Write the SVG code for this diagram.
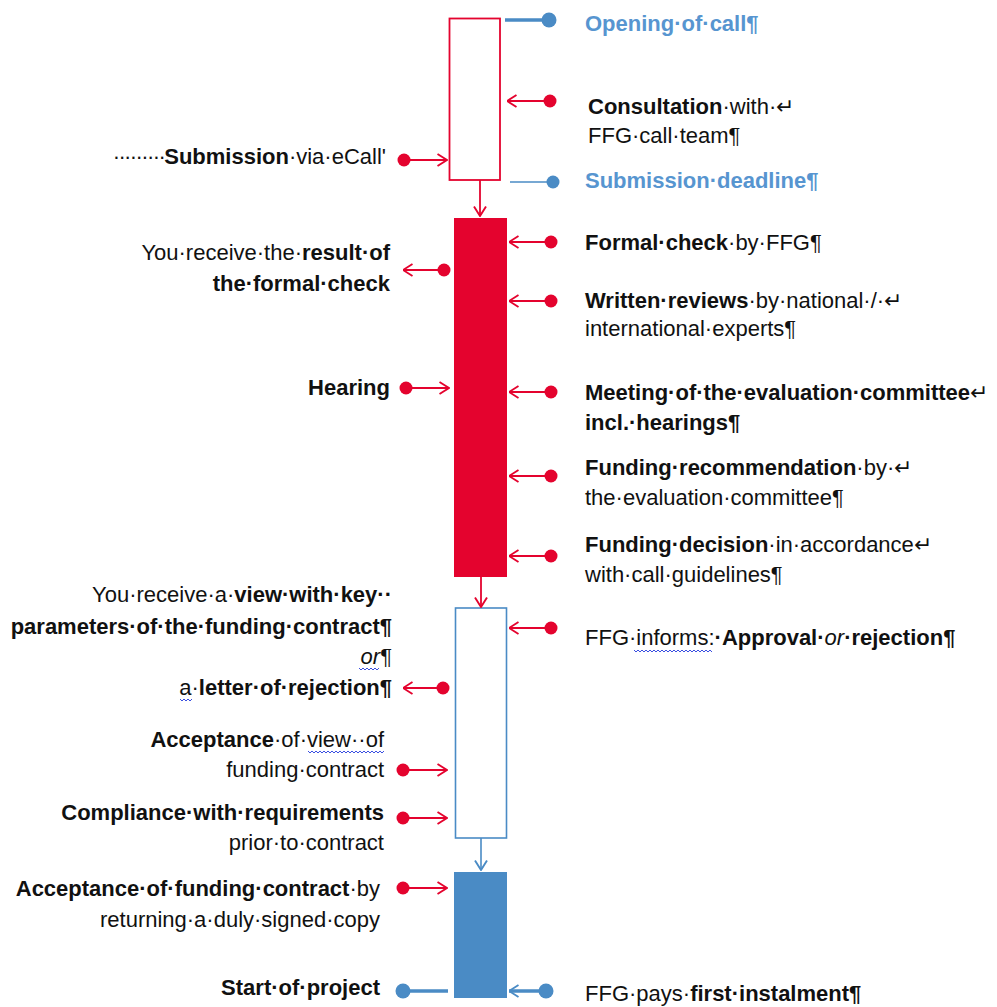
<svg xmlns="http://www.w3.org/2000/svg" width="997" height="1007" viewBox="0 0 997 1007">
<style>
text{font-family:"Liberation Sans",Arial,sans-serif;font-size:22px;fill:#111}
.b{font-weight:bold}
.i{font-style:italic}
.blue{fill:#5795D0;font-weight:bold}
.end{text-anchor:end}
.rl{stroke:#E4032E;stroke-width:1.8;fill:none}
.bl{stroke:#4A8BC5;fill:none}
.rd{fill:#E4032E}
.bd{fill:#4A8BC5}
.wv{stroke:#3A4FE0;stroke-width:1;fill:none}
</style>
<defs>
<marker id="ar" viewBox="0 0 11 14" refX="10.5" refY="7" markerWidth="11" markerHeight="14" markerUnits="userSpaceOnUse" orient="auto">
<path d="M1,1 L10.5,7 L1,13" fill="none" stroke="#E4032E" stroke-width="1.9"/>
</marker>
<marker id="ab" viewBox="0 0 11 14" refX="10.5" refY="7" markerWidth="11" markerHeight="14" markerUnits="userSpaceOnUse" orient="auto">
<path d="M1,1 L10.5,7 L1,13" fill="none" stroke="#4A8BC5" stroke-width="1.9"/>
</marker>
</defs>
<rect width="997" height="1007" fill="#fff"/>

<g id="phase-call">
<rect x="449.5" y="18.5" width="50.5" height="161.5" fill="#fff" stroke="#E4032E" stroke-width="1.8"/>
</g>
<g id="phase-evaluation">
<rect x="454" y="218" width="53" height="359" fill="#E4032E"/>
</g>
<g id="phase-decision">
<rect x="455.5" y="608" width="51" height="230" fill="#fff" stroke="#4A8BC5" stroke-width="1.6"/>
</g>
<g id="phase-project">
<rect x="454" y="872" width="53" height="126" fill="#4A8BC5"/>
</g>

<g id="connectors">
<line x1="480" y1="180" x2="480" y2="216" class="rl" marker-end="url(#ar)"/>
<line x1="481" y1="577" x2="481" y2="607" class="rl" marker-end="url(#ar)"/>
<line x1="481" y1="838" x2="481" y2="870" class="bl" stroke-width="1.6" marker-end="url(#ab)"/>

<line x1="505" y1="20" x2="549" y2="20" class="bl" stroke-width="3.5"/><circle cx="549" cy="20" r="7.5" class="bd"/>
<line x1="550" y1="101" x2="507" y2="101" class="rl" marker-end="url(#ar)"/><circle cx="550" cy="101" r="6.5" class="rd"/>
<line x1="510" y1="182" x2="553" y2="182" class="bl" stroke-width="1.6"/><circle cx="553" cy="182" r="6.5" class="bd"/>
<line x1="551" y1="242" x2="509" y2="242" class="rl" marker-end="url(#ar)"/><circle cx="551" cy="242" r="6.5" class="rd"/>
<line x1="551" y1="301" x2="509" y2="301" class="rl" marker-end="url(#ar)"/><circle cx="551" cy="301" r="6.5" class="rd"/>
<line x1="551" y1="392" x2="509" y2="392" class="rl" marker-end="url(#ar)"/><circle cx="551" cy="392" r="6.5" class="rd"/>
<line x1="551" y1="476" x2="509" y2="476" class="rl" marker-end="url(#ar)"/><circle cx="551" cy="476" r="6.5" class="rd"/>
<line x1="551" y1="556" x2="509" y2="556" class="rl" marker-end="url(#ar)"/><circle cx="551" cy="556" r="6.5" class="rd"/>
<line x1="551" y1="628" x2="509" y2="628" class="rl" marker-end="url(#ar)"/><circle cx="551" cy="628" r="6.5" class="rd"/>
<line x1="546" y1="991" x2="509" y2="991" class="bl" stroke-width="3.5" marker-end="url(#ab)"/><circle cx="546" cy="991" r="7.5" class="bd"/>

<line x1="404" y1="160" x2="447" y2="160" class="rl" marker-end="url(#ar)"/><circle cx="404" cy="160" r="6.5" class="rd"/>
<line x1="444" y1="270" x2="403" y2="270" class="rl" marker-end="url(#ar)"/><circle cx="444" cy="270" r="6.5" class="rd"/>
<line x1="406" y1="388" x2="449" y2="388" class="rl" marker-end="url(#ar)"/><circle cx="406" cy="388" r="6.5" class="rd"/>
<line x1="443" y1="688" x2="403" y2="688" class="rl" marker-end="url(#ar)"/><circle cx="443" cy="688" r="6.5" class="rd"/>
<line x1="403" y1="770" x2="447" y2="770" class="rl" marker-end="url(#ar)"/><circle cx="403" cy="770" r="6.5" class="rd"/>
<line x1="403" y1="818" x2="447" y2="818" class="rl" marker-end="url(#ar)"/><circle cx="403" cy="818" r="6.5" class="rd"/>
<line x1="403" y1="888" x2="447" y2="888" class="rl" marker-end="url(#ar)"/><circle cx="403" cy="888" r="6.5" class="rd"/>
<line x1="403" y1="991" x2="448" y2="991" class="bl" stroke-width="3.5"/><circle cx="403" cy="991" r="7.5" class="bd"/>
</g>

<g id="label-opening"><text x="585" y="31" class="blue">Opening·of·call¶</text></g>
<g id="label-consultation">
<text x="588" y="114"><tspan class="b">Consultation</tspan>·with·↵</text>
<text x="588" y="143">FFG·call·team¶</text>
</g>
<g id="label-deadline"><text x="585" y="188" class="blue">Submission·deadline¶</text></g>
<g id="label-formal"><text x="585" y="250"><tspan class="b">Formal·check</tspan>·by·FFG¶</text></g>
<g id="label-reviews">
<text x="585" y="308"><tspan class="b">Written·reviews</tspan>·by·national·/·↵</text>
<text x="585" y="336">international·experts¶</text>
</g>
<g id="label-meeting">
<text x="585" y="400"><tspan class="b">Meeting·of·the·evaluation·committee</tspan>↵</text>
<text x="585" y="430" class="b">incl.·hearings¶</text>
</g>
<g id="label-recommendation">
<text x="585" y="475"><tspan class="b">Funding·recommendation</tspan>·by·↵</text>
<text x="585" y="505">the·evaluation·committee¶</text>
</g>
<g id="label-decision">
<text x="585" y="552"><tspan class="b">Funding·decision</tspan>·in·accordance↵</text>
<text x="585" y="582">with·call·guidelines¶</text>
</g>
<g id="label-informs">
<text x="585" y="645">FFG·informs:<tspan class="b">·Approval·</tspan><tspan class="i">or</tspan><tspan class="b">·rejection¶</tspan></text>
<path class="wv" d="M634,650 l2,2 l2,-2 l2,2 l2,-2 l2,2 l2,-2 l2,2 l2,-2 l2,2 l2,-2 l2,2 l2,-2 l2,2 l2,-2 l2,2 l2,-2 l2,2 l2,-2 l2,2 l2,-2 l2,2 l2,-2 l2,2 l2,-2 l2,2 l2,-2 l2,2 l2,-2 l2,2 l2,-2 l2,2 l2,-2 l2,2 l2,-2 l2,2 l2,-2 l2,2 l2,-2 l2,2"/>
</g>
<g id="label-pays"><text x="585" y="1001">FFG·pays·<tspan class="b">first·instalment¶</tspan></text></g>

<g id="label-submission"><text x="386" y="164" class="end"><tspan letter-spacing="-1.6">·········</tspan><tspan class="b">Submission</tspan>·via·eCall'</text></g>
<g id="label-result">
<text x="390" y="260" class="end">You·receive·the·<tspan class="b">result·of</tspan></text>
<text x="390" y="291" class="end b">the·formal·check</text>
</g>
<g id="label-hearing"><text x="390" y="395" class="end b">Hearing</text></g>
<g id="label-view">
<text x="392" y="602" class="end">You·receive·a·<tspan class="b">view·with·key··</tspan></text>
<text x="392" y="634" class="end b">parameters·of·the·funding·contract¶</text>
<text x="392" y="664" class="end"><tspan class="i">or</tspan>¶</text>
<path class="wv" d="M359,668 l2,2 l2,-2 l2,2 l2,-2 l2,2 l2,-2 l2,2 l2,-2 l2,2 l2,-2"/>
<text x="392" y="695" class="end">a·<tspan class="b">letter·of·rejection¶</tspan></text>
<path class="wv" d="M180,699 l2,2 l2,-2 l2,2 l2,-2 l2,2 l2,-2"/>
</g>
<g id="label-acceptance-view">
<text x="384" y="747" class="end"><tspan class="b">Acceptance</tspan>·of·view··of</text>
<path class="wv" d="M308,751 l2,2 l2,-2 l2,2 l2,-2 l2,2 l2,-2 l2,2 l2,-2 l2,2 l2,-2 l2,2 l2,-2 l2,2 l2,-2 l2,2 l2,-2 l2,2 l2,-2 l2,2 l2,-2 l2,2 l2,-2 l2,2 l2,-2 l2,2 l2,-2 l2,2 l2,-2 l2,2 l2,-2 l2,2 l2,-2 l2,2 l2,-2 l2,2 l2,-2 l2,2 l2,-2"/>
<text x="384" y="777" class="end">funding·contract</text>
</g>
<g id="label-compliance">
<text x="384" y="820" class="end b">Compliance·with·requirements</text>
<text x="384" y="850" class="end">prior·to·contract</text>
</g>
<g id="label-acceptance-contract">
<text x="380" y="896" class="end"><tspan class="b">Acceptance·of·funding·contract</tspan>·by</text>
<text x="380" y="927" class="end">returning·a·duly·signed·copy</text>
</g>
<g id="label-start"><text x="380" y="995" class="end b">Start·of·project</text></g>
</svg>
